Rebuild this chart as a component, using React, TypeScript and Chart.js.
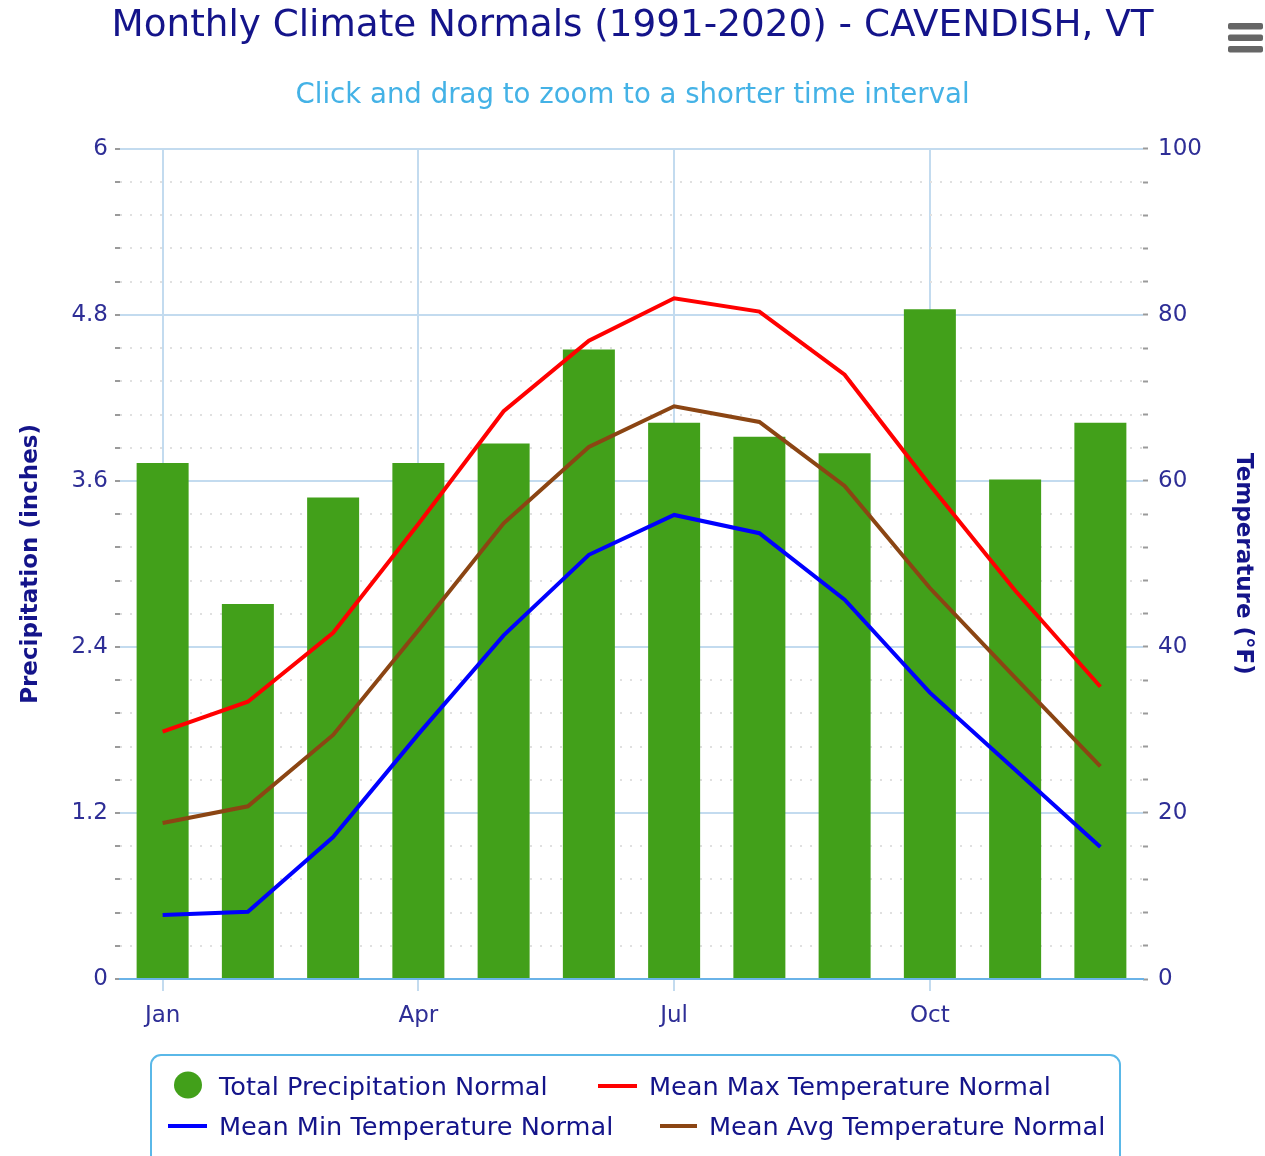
import React, { useEffect, useRef } from "react";
import { Chart, registerables } from "chart.js";

Chart.register(...registerables);

// ---------- Data ----------
const MONTHS = ["Jan", "Feb", "Mar", "Apr", "May", "Jun", "Jul", "Aug", "Sep", "Oct", "Nov", "Dec"];
const PRECIP = [3.73, 2.71, 3.48, 3.73, 3.87, 4.55, 4.02, 3.92, 3.8, 4.84, 3.61, 4.02];
const MAX_TEMP = [29.8, 33.4, 41.7, 54.8, 68.4, 76.9, 82.0, 80.4, 72.8, 59.5, 46.8, 35.2];
const MIN_TEMP = [7.7, 8.1, 17.1, 29.5, 41.4, 51.1, 55.9, 53.7, 45.7, 34.5, 25.2, 15.9];
const AVG_TEMP = [18.8, 20.8, 29.4, 42.0, 54.9, 64.1, 69.0, 67.1, 59.4, 47.1, 36.3, 25.6];

const PRECIP_TICKS = [0, 1.2, 2.4, 3.6, 4.8, 6];
const TEMP_TICKS = [0, 20, 40, 60, 80, 100];
const MINOR_PER_MAJOR = 5;
const LABEL_EVERY = 3;

const SERIES_NAMES = [
  "Total Precipitation Normal",
  "Mean Max Temperature Normal",
  "Mean Min Temperature Normal",
  "Mean Avg Temperature Normal",
];
const TITLE = "Monthly Climate Normals (1991-2020) - CAVENDISH, VT";
const SUBTITLE = "Click and drag to zoom to a shorter time interval";
const Y_TITLE = "Precipitation (inches)";
const Y1_TITLE = "Temperature (°F)";

// ---------- Styles ----------
const FONT = '"DejaVu Sans", sans-serif';
const NAVY = "#14148a";
const TICK_TEXT = "#2e2e96";
const SUB_BLUE = "#44b2e6";
const GREEN = "#42a01a";
const RED = "#ff0000";
const BLUE = "#0000ff";
const BROWN = "#8b4513";
const MAJOR_GRID = "#c3dbef";
const MINOR_GRID = "#e0e0e0";
const TICK_MARK = "#9a9a9a";

function withMinor(major: number[]) {
  const out: any[] = [];
  for (let i = 0; i < major.length; i++) {
    out.push({ value: major[i], isMajor: true });
    if (i < major.length - 1) {
      const step = (major[i + 1] - major[i]) / MINOR_PER_MAJOR;
      for (let k = 1; k < MINOR_PER_MAJOR; k++) out.push({ value: major[i] + k * step, isMajor: false });
    }
  }
  return out;
}

const decorPlugin = {
  id: "decor",
  afterDraw(chart: any) {
    const ctx = chart.ctx as CanvasRenderingContext2D;
    ctx.save();
    // export menu icon
    ctx.fillStyle = "#666666";
    for (const y of [23, 34.5, 46]) {
      ctx.beginPath();
      (ctx as any).roundRect(1228, y, 35, 6.5, 2);
      ctx.fill();
    }
    // legend frame
    ctx.strokeStyle = "#5ab8e8";
    ctx.lineWidth = 2;
    ctx.beginPath();
    (ctx as any).roundRect(151, 1055, 969, 130, 10);
    ctx.stroke();

    const ds = chart.data.datasets;
    const items = [
      { i: 0, kind: "circle", x0: 174, x1: 202, y: 1086, tx: 219 },
      { i: 1, kind: "line", x0: 598, x1: 637, y: 1086, tx: 649 },
      { i: 2, kind: "line", x0: 168, x1: 207, y: 1126, tx: 219 },
      { i: 3, kind: "line", x0: 660, x1: 697, y: 1126, tx: 709 },
    ];
    ctx.font = `25.6px ${FONT}`;
    ctx.textBaseline = "middle";
    for (const it of items) {
      const d = ds[it.i];
      if (it.kind === "circle") {
        ctx.fillStyle = d.backgroundColor;
        ctx.beginPath();
        ctx.ellipse((it.x0 + it.x1) / 2, it.y - 1, 14, 13.5, 0, 0, Math.PI * 2);
        ctx.fill();
      } else {
        ctx.strokeStyle = d.borderColor;
        ctx.lineWidth = 4;
        ctx.beginPath();
        ctx.moveTo(it.x0, it.y);
        ctx.lineTo(it.x1, it.y);
        ctx.stroke();
      }
      ctx.fillStyle = NAVY;
      ctx.fillText(d.label, it.tx, it.y + 2);
    }
    ctx.restore();
  },
};

export default function App() {
  const ref = useRef<HTMLCanvasElement | null>(null);

  useEffect(() => {
    if (!ref.current) return;
    const lineDs = (label: string, data: number[], color: string) => ({
      type: "line" as const,
      label,
      data,
      yAxisID: "y1",
      borderColor: color,
      backgroundColor: color,
      borderWidth: 4,
      pointRadius: 0,
      tension: 0,
      fill: false,
      order: 1,
    });

    const chart = new Chart(ref.current, {
      type: "bar",
      data: {
        labels: MONTHS,
        datasets: [
          {
            type: "bar",
            label: SERIES_NAMES[0],
            data: PRECIP,
            yAxisID: "y",
            backgroundColor: GREEN,
            borderWidth: 0,
            barPercentage: 0.61,
            categoryPercentage: 1,
            order: 2,
          } as any,
          lineDs(SERIES_NAMES[1], MAX_TEMP, RED),
          lineDs(SERIES_NAMES[2], MIN_TEMP, BLUE),
          lineDs(SERIES_NAMES[3], AVG_TEMP, BROWN),
        ],
      },
      options: {
        responsive: false,
        animation: false,
        layout: { padding: 0 },
        plugins: {
          legend: { display: false },
          tooltip: { enabled: false },
          title: {
            display: true,
            text: TITLE,
            color: NAVY,
            font: { family: FONT, size: 37.3, weight: "normal", lineHeight: 1.2 },
            padding: { top: 4, bottom: 0 },
          },
          subtitle: {
            display: true,
            text: SUBTITLE,
            color: SUB_BLUE,
            font: { family: FONT, size: 27.6, weight: "normal", lineHeight: 1.2 },
            padding: { top: 31, bottom: 36 },
          },
        },
        scales: {
          x: {
            type: "category",
            offset: true,
            afterFit: (s: any) => {
              s.height = 177;
            },
            grid: {
              offset: false,
              color: (c: any) => (c.index % LABEL_EVERY === 0 ? MAJOR_GRID : "rgba(0,0,0,0)"),
              tickColor: (c: any) => (c.index % LABEL_EVERY === 0 ? MAJOR_GRID : "rgba(0,0,0,0)"),
              lineWidth: 2,
              tickWidth: 2,
              tickLength: 12,
            },
            border: { display: true, color: "#6ab3e8", width: 2 },
            ticks: {
              autoSkip: false,
              maxRotation: 0,
              padding: 11,
              color: TICK_TEXT,
              font: { family: FONT, size: 23 },
              callback: (_v: any, i: number) => (i % LABEL_EVERY === 0 ? MONTHS[i] : ""),
            },
          },
          y: {
            type: "linear",
            position: "left",
            min: PRECIP_TICKS[0],
            max: PRECIP_TICKS[PRECIP_TICKS.length - 1],
            afterBuildTicks: (s: any) => {
              s.ticks = withMinor(PRECIP_TICKS);
            },
            afterFit: (s: any) => {
              s.width = 120;
            },
            grid: {
              color: (c: any) => (c.tick && c.tick.isMajor ? MAJOR_GRID : MINOR_GRID),
              lineWidth: 2,
              tickColor: TICK_MARK,
              tickLength: 5,
              tickWidth: 2,
            },
            border: {
              display: false,
              dash: (c: any) => (c.tick && c.tick.isMajor ? [] : [2, 8]),
            },
            ticks: {
              autoSkip: false,
              padding: 7,
              color: TICK_TEXT,
              font: { family: FONT, size: 23 },
              callback: function (this: any, v: any, i: number, ticks: any[]) {
                return ticks[i] && ticks[i].isMajor ? String(Math.round(v * 100) / 100) : "";
              },
            },
            title: {
              display: true,
              text: Y_TITLE,
              color: NAVY,
              font: { family: FONT, size: 23, weight: "bold", lineHeight: 1.2 },
              padding: { top: 17, bottom: 0 },
            },
          },
          y1: {
            type: "linear",
            position: "right",
            min: TEMP_TICKS[0],
            max: TEMP_TICKS[TEMP_TICKS.length - 1],
            afterBuildTicks: (s: any) => {
              s.ticks = withMinor(TEMP_TICKS);
            },
            afterFit: (s: any) => {
              s.width = 122;
            },
            grid: {
              drawOnChartArea: false,
              tickColor: TICK_MARK,
              tickLength: 5,
              tickWidth: 2,
            },
            border: { display: false },
            ticks: {
              autoSkip: false,
              padding: 10,
              color: TICK_TEXT,
              font: { family: FONT, size: 23 },
              callback: function (this: any, v: any, i: number, ticks: any[]) {
                return ticks[i] && ticks[i].isMajor ? String(Math.round(v)) : "";
              },
            },
            title: {
              display: true,
              text: Y1_TITLE,
              color: NAVY,
              font: { family: FONT, size: 23, weight: "bold", lineHeight: 1.2 },
              padding: { top: 8, bottom: 0 },
            },
          },
        },
      } as any,
      plugins: [decorPlugin],
    });
    return () => chart.destroy();
  }, []);

  return (
    <div style={{ position: "absolute", left: 0, top: 0, width: 1265, height: 1156, background: "#ffffff" }}>
      <canvas ref={ref} width={1265} height={1156} style={{ display: "block" }} />
    </div>
  );
}
